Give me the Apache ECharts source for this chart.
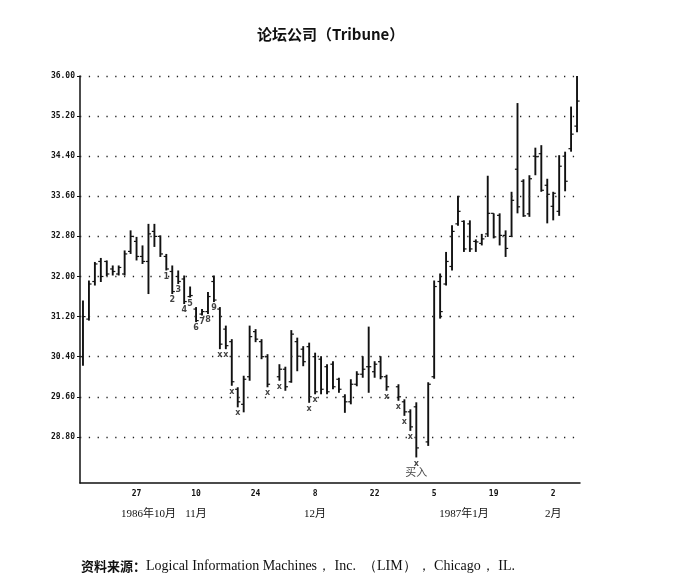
<!DOCTYPE html>
<html>
<head>
<meta charset="utf-8">
<script src="https://cdn.jsdelivr.net/npm/echarts@6/dist/echarts.min.js"></script>
<style>
  html, body { margin: 0; padding: 0; background: #fff; }
  #main { width: 674px; height: 585px; }
</style>
</head>
<body>
<div id="main"></div>
<script>
// 交易日（含假日空位）
var dates = [
  '10-14','10-15','10-16','10-17','10-20','10-21','10-22','10-23','10-24','10-27','10-28','10-29','10-30','10-31',
  '11-03','11-04','11-05','11-06','11-07','11-10','11-11','11-12','11-13','11-14','11-17','11-18','11-19','11-20','11-21','11-24','11-25','11-26','11-27','11-28',
  '12-01','12-02','12-03','12-04','12-05','12-08','12-09','12-10','12-11','12-12','12-15','12-16','12-17','12-18','12-19','12-22','12-23','12-24','12-25','12-26','12-29','12-30','12-31',
  '01-01','01-02','01-05','01-06','01-07','01-08','01-09','01-12','01-13','01-14','01-15','01-16','01-19','01-20','01-21','01-22','01-23','01-26','01-27','01-28','01-29','01-30',
  '02-02','02-03','02-04','02-05','02-06'
];
var opens = [
  30.40,31.15,31.90,32.30,32.30,32.15,32.05,32.05,32.50,32.70,
  32.40,32.30,32.90,32.80,32.40,32.10,32.00,31.95,31.60,31.35,
  31.25,31.30,31.90,31.35,30.95,30.70,29.75,29.45,30.00,30.90,
  30.70,30.40,null,30.00,30.15,29.90,30.70,30.55,30.60,30.40,
  30.35,30.20,30.25,29.95,29.60,29.50,29.85,30.05,30.20,30.10,
  30.30,30.00,null,29.80,29.50,29.30,29.40,null,28.70,30.00,
  31.90,31.85,32.20,33.05,33.10,33.05,32.70,32.66,32.85,33.26,
  33.22,32.82,32.80,34.14,33.90,33.25,34.40,34.45,33.82,33.40,
  33.30,34.40,34.55,35.00
];
var highs = [
  31.52,31.92,32.29,32.37,32.32,32.22,32.22,32.52,32.92,32.79,
  32.62,33.05,33.05,32.82,32.45,32.22,32.12,32.02,31.80,31.39,
  31.35,31.69,32.02,31.39,31.02,30.75,29.79,30.02,31.02,30.95,
  30.75,30.45,null,30.25,30.20,30.93,30.78,30.61,30.68,30.48,
  30.41,30.25,30.31,29.98,29.65,29.95,30.11,30.41,31.00,30.31,
  30.41,30.04,null,29.85,29.55,29.35,29.49,null,29.89,31.92,
  32.06,32.49,33.02,33.61,33.12,33.12,32.74,32.85,34.01,33.26,
  33.26,32.92,33.69,35.46,33.94,34.02,34.57,34.62,33.95,33.69,
  34.42,34.49,35.39,36.00
];
var lows = [
  30.22,31.12,31.82,31.89,32.01,32.02,32.02,32.02,32.45,32.32,
  32.25,31.65,32.59,32.39,32.12,31.65,31.85,31.45,31.58,31.09,
  31.22,31.25,31.49,30.55,30.55,29.82,29.39,29.29,29.92,30.69,
  30.35,29.79,null,29.92,29.72,29.88,30.11,30.21,29.48,29.65,
  29.65,29.65,29.75,29.68,29.28,29.45,29.81,29.98,29.68,29.98,
  29.95,29.72,null,29.52,29.22,28.92,28.39,null,28.62,29.96,
  31.16,31.82,32.12,33.01,32.49,32.49,32.49,32.62,32.79,32.76,
  32.62,32.39,32.79,33.26,33.19,33.19,34.02,33.69,33.06,33.12,
  33.21,33.70,34.49,34.88
];
var closes = [
  31.20,31.85,32.25,32.00,32.05,32.10,32.18,32.45,32.80,32.40,
  32.30,32.85,32.80,32.45,32.15,31.70,31.90,31.50,31.62,31.12,
  31.30,31.60,31.53,30.65,30.62,29.90,29.50,29.95,30.80,30.75,
  30.40,29.85,null,30.15,29.80,30.85,30.41,30.30,29.60,29.70,
  29.75,29.70,29.80,29.75,29.50,29.85,30.05,30.15,30.20,30.25,
  30.00,29.80,null,29.60,29.30,29.00,28.58,null,29.85,31.80,
  31.30,32.30,32.90,33.30,32.55,32.55,32.69,32.75,33.26,32.79,
  32.82,32.56,33.52,33.39,33.21,33.95,34.39,33.72,33.64,33.66,
  34.20,33.90,34.84,35.50
];
// 纵轴刻度
var yTicks = [28.80, 29.60, 30.40, 31.20, 32.00, 32.80, 33.60, 34.40, 35.20, 36.00];
// 横轴日期标签（周一）
var dayLabelIdx = [9, 19, 29, 39, 49, 59, 69, 79];
// 月份标签
var monthIdx = [11, 19, 39, 64, 79];
var monthText = ['1986年10月', '11月', '12月', '1987年1月', '2月'];
// 计数标记
var markIdx = [14,15,16,17,18,19,20,21,22,23,24,25,26,31,33,38,39,51,53,54,55,56];
var markText = ['1','2','3','4','5','6','7','8','9','x','x','x','x','x','x','x','x','x','x','x','x','x'];
var buyIdx = 56;
var buyText = '买入';

;(function () {
    var chart = echarts.init(document.getElementById('main'));
    var ink = '#111';

    var barData = [];
    for (var i = 0; i < dates.length; i++) {
        if (highs[i] == null) continue; // 假日
        barData.push([i, opens[i], highs[i], lows[i], closes[i]]);
    }

    var markData = [];
    for (var k = 0; k < markIdx.length; k++) {
        markData.push({
            value: [markIdx[k], lows[markIdx[k]]],
            label: { formatter: markText[k] }
        });
    }
    markData.push({
        value: [buyIdx, lows[buyIdx]],
        label: {
            formatter: '{b|' + buyText + '}',
            distance: 8,
            rich: { b: { fontFamily: 'Noto Sans CJK SC', fontSize: 11, fontWeight: 'normal', color: ink } }
        }
    });

    //美国线
    function renderBar(params, api) {
        var hi = api.coord([api.value(0), api.value(2)]);
        var lo = api.coord([api.value(0), api.value(3)]);
        var op = api.coord([api.value(0), api.value(1)]);
        var cl = api.coord([api.value(0), api.value(4)]);
        var w = 2.6;
        return {
            type: 'group',
            children: [
                { type: 'line', shape: { x1: hi[0], y1: hi[1], x2: lo[0], y2: lo[1] }, style: { stroke: ink, lineWidth: 1.9 } },
                { type: 'line', shape: { x1: op[0] - w, y1: op[1], x2: op[0], y2: op[1] }, style: { stroke: ink, lineWidth: 1.2 } },
                { type: 'line', shape: { x1: cl[0], y1: cl[1], x2: cl[0] + w, y2: cl[1] }, style: { stroke: ink, lineWidth: 1.2 } }
            ]
        };
    }

    chart.setOption({
        animation: false,
        backgroundColor: '#fff',
        title: [
            {
                text: '论坛公司（Tribune）',
                left: 252,
                top: 22,
                textStyle: { fontFamily: 'Noto Sans CJK SC', fontSize: 15, fontWeight: 'bold', color: ink }
            },
            {
                text: '{a|资料来源：}{b|Logical Information Machines， Inc.  （LIM）， Chicago， IL.}',
                left: 76,
                top: 554,
                textStyle: {
                    rich: {
                        a: { fontFamily: 'Noto Sans CJK SC', fontSize: 13, fontWeight: 'bold', color: ink },
                        b: { fontFamily: 'Liberation Serif', fontSize: 14, fontWeight: 'normal', color: ink }
                    }
                }
            }
        ],
        grid: { left: 80, right: 94, top: 76, bottom: 102 },
        xAxis: [
            {
                type: 'category',
                data: dates,
                boundaryGap: true,
                axisLine: { lineStyle: { color: ink, width: 1.5 } },
                axisTick: {
                    inside: true,
                    length: 4,
                    lineStyle: { color: ink, width: 1.2 },
                    interval: function (index) { return index % 5 === 4; }
                },
                axisLabel: {
                    interval: function (index) { return dayLabelIdx.indexOf(index) >= 0; },
                    formatter: function (v) { return String(parseInt(v.split('-')[1], 10)); },
                    fontFamily: 'DejaVu Sans Mono',
                    fontSize: 8,
                    fontWeight: 'bold',
                    color: ink,
                    margin: 7
                },
                splitLine: { show: false }
            },
            {
                type: 'category',
                data: dates,
                position: 'bottom',
                offset: 19,
                axisLine: { show: false },
                axisTick: { show: false },
                axisLabel: {
                    interval: function (index) { return monthIdx.indexOf(index) >= 0; },
                    formatter: function (v, index) { return monthText[monthIdx.indexOf(index)]; },
                    fontFamily: 'Liberation Serif, Noto Sans CJK SC',
                    fontSize: 11,
                    color: ink,
                    margin: 7
                }
            }
        ],
        yAxis: {
            type: 'value',
            min: 27.88,
            max: 36.00,
            axisLine: { show: true, lineStyle: { color: ink, width: 1.5 } },
            axisTick: { show: true, length: 3, customValues: yTicks, lineStyle: { color: ink } },
            axisLabel: {
                customValues: yTicks,
                formatter: function (v) { return v.toFixed(2); },
                fontFamily: 'DejaVu Sans Mono',
                fontSize: 8,
                fontWeight: 'bold',
                color: ink,
                margin: 5
            },
            splitLine: { show: false }
        },
        series: [
            {
                type: 'custom',
                renderItem: renderBar,
                data: barData,
                encode: { x: 0, y: [1, 2, 3, 4] },
                markLine: {
                    silent: true,
                    symbol: 'none',
                    label: { show: false },
                    lineStyle: { color: '#222', width: 1.3, type: [1.3, 7.5] },
                    data: yTicks.map(function (v) { return { yAxis: v }; })
                },
                z: 3
            },
            {
                type: 'scatter',
                data: markData,
                symbolSize: 2,
                itemStyle: { color: 'rgba(0,0,0,0)' },
                label: {
                    show: true,
                    position: 'bottom',
                    distance: 1,
                    fontFamily: 'DejaVu Sans',
                    fontSize: 8,
                    fontWeight: 'bold',
                    color: ink
                },
                labelLayout: { hideOverlap: false },
                z: 4
            }
        ]
    });
})();
</script>
</body>
</html>
